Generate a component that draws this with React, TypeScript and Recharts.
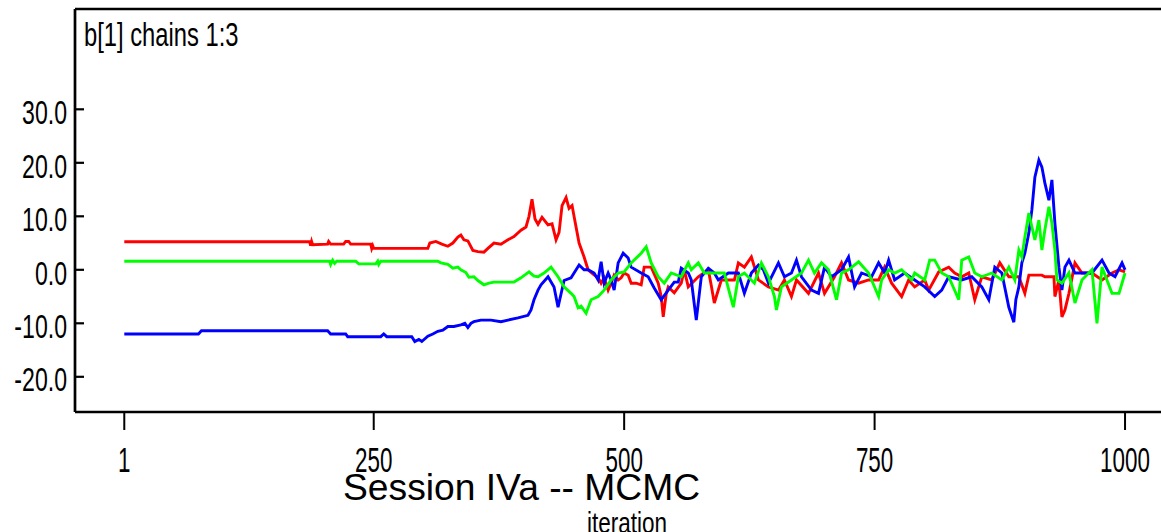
import { LineChart, Line, XAxis, YAxis, ReferenceLine } from "recharts";

// [iteration, value] per chain
const chain1: [number, number][] = [
  [1, 5.25], [186, 5.25], [187, 4.5], [188, 5.3], [189, 4.7], [204, 4.8], [205, 5.3], [207, 4.8],
  [220, 4.8], [222, 5.3], [225, 5.3], [227, 4.8], [247, 4.8], [248, 4.0], [249, 4.5], [250, 4.0],
  [304, 4.0], [306, 5.0], [312, 5.3], [318, 4.8], [324, 4.4], [329, 5.0], [334, 6.1], [337, 6.5],
  [340, 5.6], [344, 5.4], [349, 3.6], [354, 3.4], [360, 3.3], [364, 4.0], [370, 5.0], [377, 4.8],
  [384, 5.6], [390, 6.2], [397, 7.4], [402, 8.0], [405, 10.0], [408, 13.2], [411, 9.5], [414, 8.5],
  [418, 9.8], [424, 8.4], [428, 8.6], [432, 5.6], [435, 7.0], [438, 12.0], [442, 13.5], [445, 11.5],
  [448, 12.0], [451, 9.0], [455, 5.0], [460, 2.4], [464, 0.0], [469, -0.8], [474, -1.5], [477, -2.5],
  [480, -1.5], [484, -3.8], [487, -2.5], [490, -1.0], [494, -1.9], [497, -1.5], [500, -0.6], [504, -1.0],
  [507, -2.5], [512, -2.5], [517, -2.8], [520, 0.5], [527, 0.5], [534, -2.5], [537, -5.0], [539, -8.8],
  [542, -4.5], [544, -3.2], [550, -4.3], [557, -2.5], [560, 0.0], [564, -3.2], [574, -1.3], [584, 0.0],
  [587, -3.0], [590, -6.2], [597, -1.9], [610, -1.9], [614, 1.3], [620, 0.5], [627, 2.4], [634, -1.9],
  [644, -3.2], [654, -3.8], [660, -1.9], [667, -5.0], [672, -1.9], [684, -4.4], [694, -0.6], [700, -4.4],
  [710, -1.3], [717, 1.3], [724, -1.9], [734, -2.5], [744, -1.9], [754, -1.9], [760, 0.5], [767, -2.5],
  [777, -5.0], [784, -1.9], [790, -3.2], [800, -1.9], [804, -3.8], [814, -0.4], [824, 0.5], [830, -0.6],
  [837, -1.3], [844, -0.6], [850, -5.6], [857, -1.3], [867, -1.9], [875, 1.3], [884, -1.3], [894, -1.3],
  [900, -4.4], [904, -1.0], [917, -1.0], [920, -1.3], [929, -1.3], [930, -5.0], [934, -1.9], [937, -8.8],
  [940, -7.5], [944, -4.4], [950, 1.3], [957, -0.6], [967, -0.6], [977, -1.9], [987, -0.6], [994, 0.0],
  [1000, -0.4],
];

const chain2: [number, number][] = [
  [1, -12.0], [75, -12.0], [78, -11.4], [204, -11.4], [207, -12.0], [222, -12.0], [224, -12.5], [257, -12.5],
  [260, -12.0], [263, -12.5], [288, -12.5], [291, -13.4], [295, -13.0], [298, -13.4], [304, -12.4], [309, -12.0],
  [314, -11.5], [319, -11.3], [324, -10.6], [330, -10.6], [337, -10.3], [341, -10.0], [344, -10.8], [347, -10.0],
  [350, -9.7], [357, -9.4], [367, -9.4], [377, -9.7], [384, -9.4], [394, -9.0], [404, -8.5], [407, -7.5],
  [410, -5.6], [414, -3.8], [417, -2.8], [424, -1.3], [430, -3.2], [434, -7.0], [440, -2.0], [447, -1.5],
  [450, -0.6], [455, 0.9], [460, 0.0], [464, 0.0], [470, -0.6], [474, -1.9], [477, 1.5], [480, -2.5],
  [484, -0.6], [487, -1.9], [490, -3.8], [494, 1.3], [499, 3.1], [504, 2.2], [507, 0.5], [517, -0.6],
  [524, -1.3], [530, -3.4], [537, -5.6], [544, -3.8], [550, -2.3], [554, -2.3], [557, 0.3], [564, -0.6],
  [567, -1.9], [572, -9.4], [577, -1.3], [584, 0.3], [590, -0.6], [594, -1.9], [604, -0.6], [614, -0.6],
  [620, -4.4], [627, -0.6], [634, 0.9], [639, 0.0], [644, -2.5], [654, 1.3], [660, -1.3], [667, -0.6],
  [672, 1.8], [677, -1.3], [687, -3.8], [694, -4.4], [700, 0.5], [707, -1.3], [717, 0.0], [724, 2.4],
  [730, -3.2], [737, -0.6], [747, -1.3], [754, 1.3], [760, -0.6], [764, 1.8], [770, -1.9], [780, -0.6],
  [790, -1.9], [800, -3.2], [810, -5.0], [817, -3.8], [824, -1.3], [837, -1.9], [847, -1.3], [857, -3.2],
  [864, -5.6], [870, 0.5], [877, -0.6], [884, -7.0], [889, -9.8], [891, -5.6], [894, -3.2], [897, 1.3],
  [900, 3.1], [904, 6.9], [907, 11.2], [910, 17.3], [914, 20.5], [917, 19.2], [920, 16.2], [924, 13.0],
  [927, 16.8], [930, 8.7], [934, 0.5], [937, -3.8], [940, 0.5], [944, 1.8], [950, -0.6], [957, -0.6],
  [967, -0.6], [977, 1.8], [984, -0.6], [990, -1.3], [997, 1.3], [1000, 0.0],
];

const chain3: [number, number][] = [
  [1, 1.6], [206, 1.6], [207, 1.0], [209, 1.8], [211, 1.2], [213, 1.6], [232, 1.6], [235, 1.1],
  [252, 1.1], [254, 1.6], [255, 1.0], [257, 1.6], [314, 1.6], [317, 1.3], [324, 1.0], [329, 0.3],
  [334, 0.5], [337, 0.0], [342, -0.5], [345, -1.4], [350, -1.3], [354, -2.0], [360, -2.8], [365, -2.5],
  [370, -2.3], [380, -2.3], [390, -2.3], [397, -1.5], [405, -0.4], [410, -1.2], [414, -1.3], [420, -0.6],
  [427, 0.5], [434, -1.3], [440, -3.2], [447, -4.4], [450, -5.0], [454, -7.1], [457, -6.8], [462, -8.1],
  [467, -5.6], [474, -5.0], [480, -3.8], [487, -1.9], [494, -0.6], [500, -0.4], [507, 1.3], [517, 3.1],
  [522, 4.3], [527, 1.3], [534, -1.3], [540, -2.5], [547, -0.6], [557, -1.3], [564, 1.3], [567, 0.0],
  [574, 1.3], [580, -0.6], [590, -0.6], [600, -0.6], [609, -7.0], [614, -1.3], [620, -0.6], [630, -2.5],
  [637, 1.3], [644, -1.3], [650, -5.0], [652, -7.5], [657, -3.2], [667, -1.9], [677, -0.6], [684, 1.8],
  [690, -0.6], [697, 1.3], [704, 0.0], [712, -5.6], [717, -0.6], [724, 0.0], [734, 1.5], [744, -0.6],
  [754, -5.0], [757, -1.9], [764, 0.0], [770, -0.6], [777, 0.0], [787, -1.9], [790, -0.6], [800, -1.9],
  [805, 1.8], [810, 1.8], [817, -0.6], [824, -1.3], [834, -5.6], [837, 1.8], [844, 2.4], [850, -0.6],
  [857, -1.3], [867, -0.6], [877, -1.9], [884, 0.5], [890, -1.9], [894, 3.7], [897, 2.4], [900, 6.1],
  [904, 10.6], [907, 8.0], [910, 5.6], [914, 9.3], [917, 3.7], [920, 7.5], [924, 11.8], [927, 8.7],
  [930, 3.7], [932, -1.9], [937, -2.5], [944, -0.6], [950, -6.2], [957, -1.9], [967, 0.0], [972, -10.0],
  [977, 0.5], [987, -4.4], [994, -4.4], [1000, -0.6],
];

const yTicks = [-20, -10, 0, 10, 20, 30];
const xTicks = [1, 250, 500, 750, 1000];

const FONT = "'Liberation Sans', Arial, sans-serif";
const Y_MIN = -26.58;
const Y_MAX = 48.75;

const toRows = (c: [number, number][]) => c.map(([iter, v]) => ({ iter, v }));

const YTick = ({ x, y, payload }: any) => (
  <g>
    <line x1={x + 8} x2={x + 17} y1={y} y2={y} stroke="#000" strokeWidth={2.2} />
    <text
      transform={`translate(${x},${y + 14.7}) scale(0.7,1)`}
      textAnchor="end"
      fontFamily={FONT}
      fontSize={33}
      fill="#000"
    >
      {Number(payload.value).toFixed(1)}
    </text>
  </g>
);

const XTick = ({ x, y, payload }: any) => (
  <text
    transform={`translate(${x},${y + 40}) scale(0.65,1)`}
    textAnchor="middle"
    fontFamily={FONT}
    fontSize={34.5}
    fill="#000"
  >
    {payload.value}
  </text>
);

export default function App() {
  return (
    <div style={{ position: "absolute", left: 0, top: 0, width: 1161, height: 532, background: "#fff" }}>
      <LineChart width={1161} height={532} margin={{ top: 9, right: 0, bottom: 0, left: 0 }}>
        <XAxis
          type="number"
          dataKey="iter"
          domain={[-48.2, 1035.9]}
          ticks={xTicks}
          allowDataOverflow
          height={120}
          tickSize={18}
          tickMargin={2}
          axisLine={{ stroke: "#000", strokeWidth: 2.7 }}
          tickLine={{ stroke: "#000", strokeWidth: 2 }}
          tick={<XTick />}
        />
        <YAxis
          type="number"
          domain={[Y_MIN, Y_MAX]}
          ticks={yTicks}
          allowDataOverflow
          width={75}
          tickSize={6}
          tickMargin={2}
          axisLine={{ stroke: "#000", strokeWidth: 2.7 }}
          tickLine={false}
          tick={<YTick />}
        />
        <ReferenceLine y={Y_MAX} stroke="#000" strokeWidth={2.7} />
        <Line data={toRows(chain1)} dataKey="v" stroke="#ff0000" strokeWidth={2.9} dot={false} isAnimationActive={false} />
        <Line data={toRows(chain2)} dataKey="v" stroke="#0000ff" strokeWidth={2.9} dot={false} isAnimationActive={false} />
        <Line data={toRows(chain3)} dataKey="v" stroke="#00ff00" strokeWidth={2.9} dot={false} isAnimationActive={false} />
      </LineChart>
      <svg width={1161} height={532} style={{ position: "absolute", left: 0, top: 0, pointerEvents: "none" }}>
        <text transform="translate(84,46) scale(0.72,1)" fontFamily={FONT} fontSize={33} fill="#000">
          b[1] chains 1:3
        </text>
        <text transform="translate(343,500) scale(1.02,1)" fontFamily={FONT} fontSize={36.5} fill="#000">
          Session IVa -- MCMC
        </text>
        <text transform="translate(587,533) scale(0.75,1)" fontFamily={FONT} fontSize={30} fill="#000">
          iteration
        </text>
      </svg>
    </div>
  );
}
